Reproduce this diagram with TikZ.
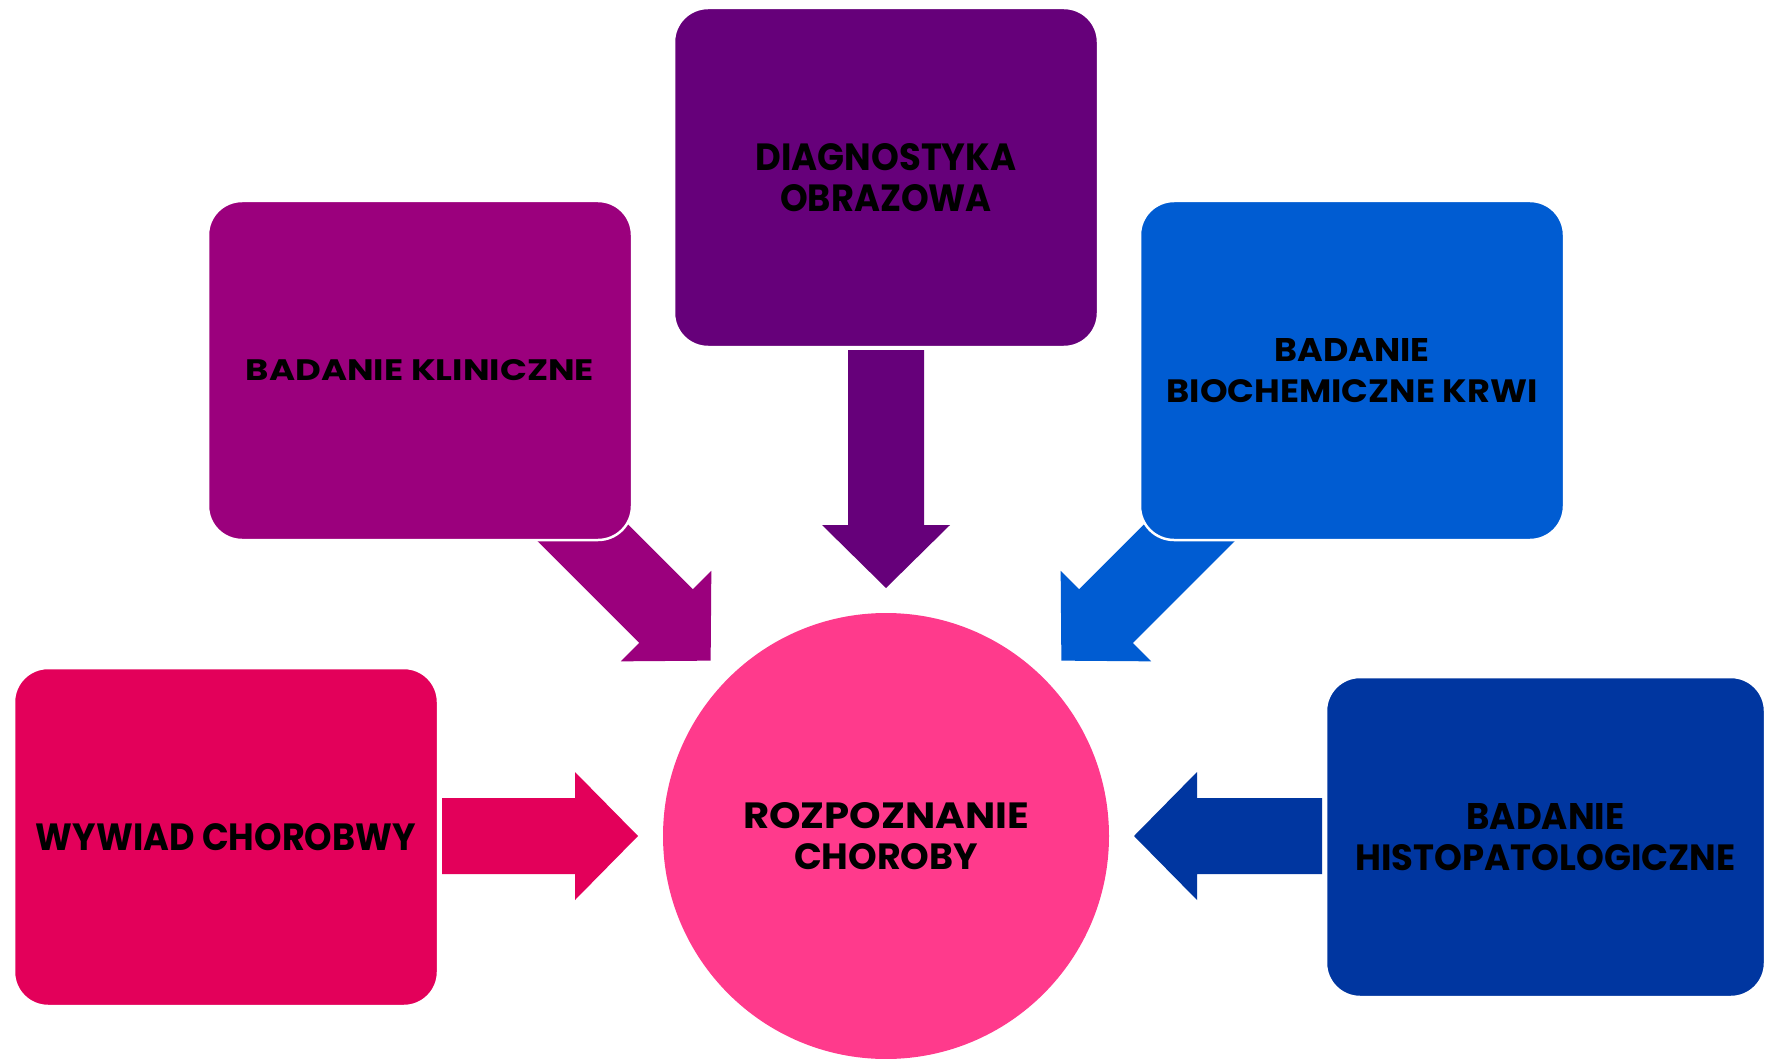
\documentclass[tikz,border=0pt]{standalone}
\usepackage{fontspec}
\setmainfont{Poppins}
\usepackage{graphicx}
\definecolor{cWW}{HTML}{E3005A}
\definecolor{cKL}{HTML}{9B007D}
\definecolor{cDG}{HTML}{66007A}
\definecolor{cBC}{HTML}{005CD2}
\definecolor{cHP}{HTML}{0036A0}
\definecolor{cRC}{HTML}{FF3A8C}
\newcommand\fitln[3]{\resizebox{#1pt}{#2pt}{#3}}
\newcommand\blockarrow[3]{%
  \fill[#1, shift={(rc.center)}, rotate=#2]
    (248,0) -- (311,64) -- (311,38) -- ({311+#3},38) -- ({311+#3},-38)
    -- (311,-38) -- (311,-64) -- cycle;}
\tikzset{
  box/.style={rectangle, rounded corners=34pt, draw=white, line width=2.5pt,
    minimum width=424pt, minimum height=339pt, inner sep=0pt, align=center,
    text=black, font=\bfseries\fontsize{30}{41.5}\selectfont},
  hub/.style={circle, minimum size=446pt, inner sep=0pt, align=center,
    fill=cRC, text=black, font=\bfseries\fontsize{30}{41}\selectfont}
}
\begin{document}
\begin{tikzpicture}[x=1pt, y=-1pt]
\useasboundingbox (0,0) rectangle (1772,1059);
\fill[white] (0,0) rectangle (1772,1059);
% central circle
\node[hub] (rc) at (886,836) {\fitln{286}{26}{ROZPOZNANIE}\\\fitln{184}{26}{CHOROBY}};
% block arrows
\blockarrow{cWW}{180}{133}
\blockarrow{cKL}{135}{150}
\blockarrow{cDG}{90}{175}
\blockarrow{cBC}{45}{150}
\blockarrow{cHP}{0}{125}
% boxes
\node[box, fill=cWW, minimum height=338pt] (ww) at (226,837) {\fitln{380}{27}{WYWIAD CHOROBWY}};
\node[box, fill=cKL] (kl) at (420,370.5) {\fitln{348}{21}{BADANIE KLINICZNE}};
\node[box, fill=cDG] (dg) at (886,177.5) {\fitln{261}{27}{DIAGNOSTYKA}\\\fitln{212}{27}{OBRAZOWA}};
\node[box, fill=cBC] (bc) at (1352,370.5) {\fitln{155}{23}{BADANIE}\\\fitln{371}{23}{BIOCHEMICZNE KRWI}};
\node[box, fill=cHP, minimum width=439pt, minimum height=320pt] (hp) at (1545.5,837) {\fitln{158}{26}{BADANIE}\\\fitln{380}{26}{HISTOPATOLOGICZNE}};
\end{tikzpicture}
\end{document}
